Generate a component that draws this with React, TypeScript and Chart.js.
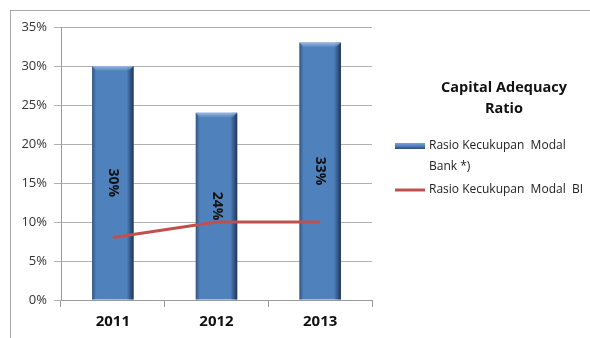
import React, { useEffect, useRef } from "react";
import { Chart, registerables } from "chart.js";
Chart.register(...registerables);

const years = ["2011", "2012", "2013"];
const bankCar = [30, 24, 33];
const biCar = [8, 10, 10];
const yMax = 35;
const yStep = 5;
const titleLines = ["Capital Adequacy", "Ratio"];
const bankLabel = ["Rasio Kecukupan  Modal", "Bank *)"];
const biLabel = ["Rasio Kecukupan  Modal  BI"];

const FONT = "'Open Sans', Lato, sans-serif";
const BLUE = "#4f81bd";
const RED = "#c0504d";

const barDecor = {
  id: "barDecor",
  afterDatasetDraw(chart: any, args: any) {
    if (args.index !== 0) return;
    const ctx = chart.ctx;
    const meta = chart.getDatasetMeta(0);
    ctx.save();
    meta.data.forEach((el: any, i: number) => {
      const { x, y, base, width } = el.getProps(["x", "y", "base", "width"], true);
      const l = x - width / 2;
      const r = x + width / 2;
      const gr = ctx.createLinearGradient(r - 7, 0, r, 0);
      gr.addColorStop(0, "rgba(20,40,70,0)");
      gr.addColorStop(1, "rgba(20,40,70,0.85)");
      ctx.fillStyle = gr;
      ctx.fillRect(r - 7, y, 7, base - y);
      const gl = ctx.createLinearGradient(l, 0, l + 4, 0);
      gl.addColorStop(0, "rgba(30,55,90,0.6)");
      gl.addColorStop(1, "rgba(30,55,90,0)");
      ctx.fillStyle = gl;
      ctx.fillRect(l, y, 4, base - y);
      const gt = ctx.createLinearGradient(0, y, 0, y + 5);
      gt.addColorStop(0, "rgba(160,190,230,0.9)");
      gt.addColorStop(1, "rgba(160,190,230,0)");
      ctx.fillStyle = gt;
      ctx.beginPath();
      ctx.moveTo(l, y);
      ctx.lineTo(r, y);
      ctx.lineTo(r - 5, y + 5);
      ctx.lineTo(l + 4, y + 5);
      ctx.closePath();
      ctx.fill();
      ctx.save();
      ctx.translate(x, (y + base) / 2);
      ctx.rotate(Math.PI / 2);
      ctx.fillStyle = "#111";
      ctx.font = `bold 14px ${FONT}`;
      ctx.textAlign = "center";
      ctx.textBaseline = "middle";
      ctx.fillText(bankCar[i] + "%", 0, 0);
      ctx.restore();
    });
    ctx.restore();
  },
};

const legendDraw = {
  id: "legendDraw",
  afterDraw(chart: any) {
    const ctx = chart.ctx;
    ctx.save();
    ctx.fillStyle = "#111";
    ctx.font = `bold 14.5px ${FONT}`;
    ctx.textAlign = "center";
    ctx.textBaseline = "alphabetic";
    ctx.fillText(titleLines[0], 504, 92);
    ctx.fillText(titleLines[1], 504, 113);
    const g = ctx.createLinearGradient(0, 143, 0, 149);
    g.addColorStop(0, "#7fa3d3");
    g.addColorStop(0.5, BLUE);
    g.addColorStop(1, "#2c4d75");
    ctx.fillStyle = g;
    ctx.fillRect(395, 143, 30, 6);
    ctx.fillStyle = "#222";
    ctx.font = `12px ${FONT}`;
    ctx.textAlign = "left";
    ctx.textBaseline = "middle";
    ctx.fillText(bankLabel[0], 429, 146);
    ctx.fillText(bankLabel[1], 429, 167);
    ctx.strokeStyle = RED;
    ctx.lineWidth = 3;
    ctx.beginPath();
    ctx.moveTo(395, 190);
    ctx.lineTo(425, 190);
    ctx.stroke();
    ctx.fillText(biLabel[0], 429, 190);
    ctx.restore();
  },
};

export default function App() {
  const ref = useRef<HTMLCanvasElement>(null);
  useEffect(() => {
    const chart = new Chart(ref.current!, {
      type: "bar",
      data: {
        labels: years,
        datasets: [
          {
            type: "bar",
            label: bankLabel.join(" "),
            data: bankCar,
            backgroundColor: BLUE,
            borderWidth: 0,
            barPercentage: 0.4,
            categoryPercentage: 1,
            order: 2,
          },
          {
            type: "line",
            label: biLabel[0],
            data: biCar,
            borderColor: RED,
            borderWidth: 3,
            pointRadius: 0,
            tension: 0,
            order: 1,
          } as any,
        ],
      },
      options: {
        animation: false,
        responsive: false,
        layout: { padding: { left: 0, top: 27, right: 218, bottom: 0 } },
        plugins: { legend: { display: false }, tooltip: { enabled: false } },
        scales: {
          x: {
            offset: true,
            grid: {
              offset: true,
              drawOnChartArea: false,
              drawTicks: true,
              tickLength: 7,
              color: "#9a9a9a",
            },
            border: { color: "#9a9a9a", width: 1 },
            ticks: {
              color: "#111",
              font: { family: FONT, size: 15, weight: "bold" },
              padding: 6,
            },
            afterFit: (s: any) => {
              s.height = 38;
            },
          },
          y: {
            min: 0,
            max: yMax,
            grid: { color: "#b0b0b0", tickLength: 7 },
            border: { color: "#9a9a9a", width: 1 },
            ticks: {
              stepSize: yStep,
              color: "#333",
              font: { family: FONT, size: 13 },
              padding: 7,
              callback: (v: any) => v + "%",
            },
            afterFit: (s: any) => {
              s.width = 61;
            },
          },
        },
      },
      plugins: [barDecor, legendDraw],
    });
    return () => chart.destroy();
  }, []);
  return (
    <div
      style={{
        position: "fixed",
        left: 0,
        top: 0,
        width: 590,
        height: 338,
        overflow: "hidden",
        background: "#fff",
      }}
    >
      <div
        style={{
          position: "absolute",
          left: 10,
          top: 10,
          width: 640,
          height: 400,
          border: "1px solid #a8a8a8",
        }}
      />
      <canvas
        ref={ref}
        width={590}
        height={338}
        style={{ position: "absolute", left: 0, top: 0 }}
      />
    </div>
  );
}
